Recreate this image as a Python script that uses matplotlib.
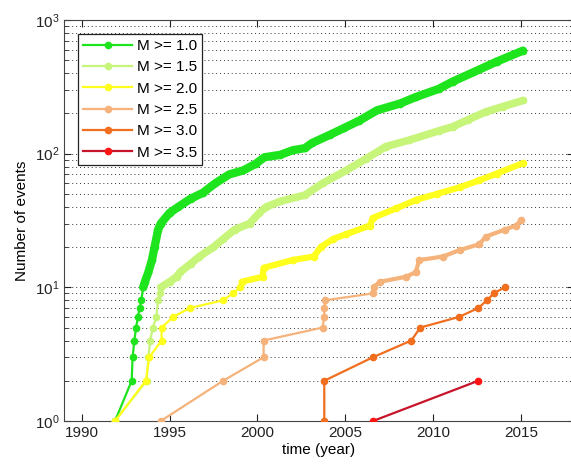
import numpy as np
import matplotlib.pyplot as plt
from matplotlib.ticker import LogLocator, NullFormatter

plt.rcParams['font.family'] = ['Liberation Sans', 'DejaVu Sans']
plt.rcParams['mathtext.fontset'] = 'custom'
plt.rcParams['mathtext.rm'] = 'Liberation Sans'

# cumulative event counts (year, count)
yr_10 = [1991.9, 1992.85, 1992.9, 1993.0, 1993.1, 1993.2, 1993.3, 1993.4, 1993.5, 1993.6,
         1993.8, 1994.0, 1994.15, 1994.35, 1994.5, 1995.0, 1995.5, 1996.2, 1996.9, 1997.6,
         1998.4, 1999.2, 1999.9, 2000.4, 2001.3, 2002.0, 2002.7, 2003.1, 2004.1, 2004.9,
         2005.8, 2006.8, 2008.1, 2009.0, 2010.3, 2011.1, 2012.25, 2013.6, 2015.1]
n_10 = [1, 2, 3, 4, 5, 6, 7, 8, 10, 11,
        13, 16, 20, 27, 30, 36, 40, 46, 51, 60,
        70, 75, 84, 94, 98, 106, 110, 120, 138, 155,
        177, 211, 237, 265, 305, 346, 405, 488, 590]

yr_15 = [1991.9, 1993.7, 1993.8, 1993.9, 1994.05, 1994.25, 1994.35, 1994.45, 1994.5, 1995.0,
         1995.4, 1995.6, 1996.2, 1996.7, 1997.5, 1998.05, 1998.7, 1999.55, 2000.1, 2000.5,
         2001.3, 2002.7, 2003.7, 2005.05, 2006.2, 2007.3, 2008.6, 2010.3, 2011.1, 2012.0,
         2013.0, 2013.95, 2015.1]
n_15 = [1, 2, 3, 4, 5, 6, 8, 9, 10, 11,
        12, 13, 15, 17, 20, 23, 27, 30, 36, 40,
        44, 49, 60, 75, 92, 113, 126, 148, 159, 180,
        206, 225, 250]

yr_20 = [1991.9, 1993.65, 1993.85, 1994.55, 1994.55, 1995.2, 1996.15, 1998.05, 1998.6, 1999.0,
         1999.1, 2000.3, 2000.35, 2002.0, 2003.2, 2003.6, 2004.3, 2005.05, 2006.4, 2006.55,
         2007.9, 2009.0, 2010.2, 2011.5, 2012.6, 2013.6, 2015.1]
n_20 = [1, 2, 3, 4, 5, 6, 7, 8, 9, 10,
        11, 12, 14, 16, 17, 20, 23, 25, 29, 33,
        39, 45, 50, 56, 63, 71, 85]

yr_25 = [1994.5, 1998.05, 2000.35, 2000.35, 2003.7, 2003.8, 2003.8, 2003.85, 2006.55, 2006.6,
         2006.95, 2008.45, 2009.0, 2009.2, 2010.55, 2011.5, 2012.6, 2013.0, 2014.05, 2014.7,
         2015.0]
n_25 = [1, 2, 3, 4, 5, 6, 7, 8, 9, 10,
        11, 12, 13, 16, 17, 19, 21, 24, 27, 29,
        32]

yr_30 = [2003.8, 2003.8, 2006.57, 2008.75, 2009.26, 2011.45, 2012.56, 2013.05, 2013.43, 2014.05]
n_30 = [1, 2, 3, 4, 5, 6, 7, 8, 9, 10]

yr_35 = [2006.57, 2012.56]
n_35 = [1, 2]

labels = ['M >= 1.0', 'M >= 1.5', 'M >= 2.0', 'M >= 2.5', 'M >= 3.0', 'M >= 3.5']
years = [yr_10, yr_15, yr_20, yr_25, yr_30, yr_35]
counts = [n_10, n_15, n_20, n_25, n_30, n_35]
line_colors = ['#1ee41e', '#c6f57a', '#ffff1e', '#f5b27a', '#f06e1e', '#c8142a']
mark_colors = ['#1ee41e', '#c6f57a', '#ffff1e', '#f5b27a', '#f06e1e', '#ff1414']
# where the dense markers merge into a thick band
band_from = [9, 10, 11, 9, None, None]
band_width = [6.0, 5.5, 4.5, 3.0, 0, 0]

fig = plt.figure(figsize=(5.71, 4.68), dpi=100)
ax = fig.add_axes([64 / 571, 47 / 468, 510 / 571, 401 / 468])

for x, n, lab, lc, mc, b, w in zip(years, counts, labels, line_colors, mark_colors, band_from, band_width):
    x = np.array(x)
    n = np.array(n)
    ax.plot(x, n, '-', color=lc, lw=1.6, marker='o', ms=4.5, mfc=mc, mec=mc, label=lab, zorder=3)
    if b is not None:
        m = n >= b
        ax.plot(x[m], n[m], '-', color=lc, lw=w, solid_capstyle='round',
                solid_joinstyle='round', zorder=3)

ax.set_yscale('log')
ax.set_xlim(1989, 2018)
ax.set_ylim(1, 1000)
ax.set_xticks([1990, 1995, 2000, 2005, 2010, 2015])
ax.yaxis.set_minor_locator(LogLocator(base=10, subs=np.arange(2, 10)))
ax.yaxis.set_minor_formatter(NullFormatter())
ax.tick_params(which='both', direction='in', top=True, right=True, labelsize=11, colors='#222222')
ax.tick_params(which='major', length=5)
ax.tick_params(which='minor', length=3)
ax.grid(True, which='both', axis='y', linestyle=(0, (1, 3)), color='#333333', lw=0.7)
for s in ax.spines.values():
    s.set_color('#444444')

ax.set_xlabel('time (year)', fontsize=11, labelpad=2)
ax.set_ylabel('Number of events', fontsize=11, labelpad=4)

leg = ax.legend(loc='upper left', bbox_to_anchor=(0.012, 0.985), fontsize=11, fancybox=False,
                edgecolor='#222222', framealpha=1, handlelength=3.2, handletextpad=0.3,
                labelspacing=0.48, borderpad=0.35)
leg.get_frame().set_linewidth(0.9)

plt.savefig('out.png', dpi=100)
